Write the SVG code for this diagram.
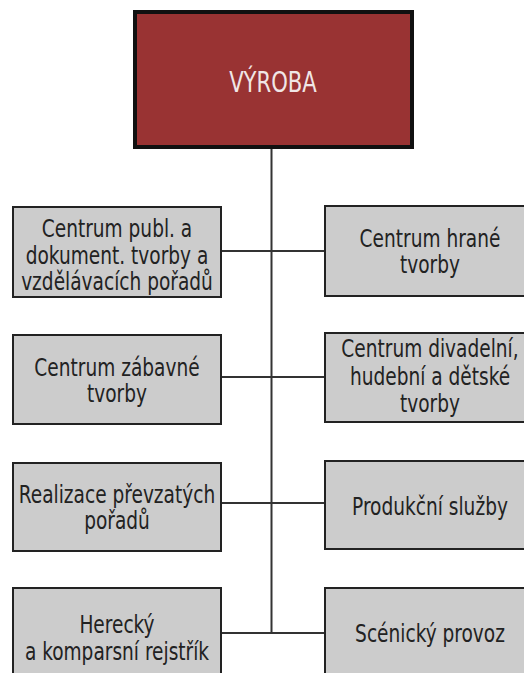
<svg xmlns="http://www.w3.org/2000/svg" width="524" height="673" viewBox="0 0 524 673">
<style>
.box{fill:#cccccc;stroke:#222;stroke-width:2}
.top{fill:#993333;stroke:#111;stroke-width:4}
.t{font-family:"DejaVu Sans Condensed","DejaVu Sans",sans-serif;font-stretch:condensed;font-size:24px;fill:#222;text-anchor:middle}
.tt{font-family:"DejaVu Sans Condensed","DejaVu Sans",sans-serif;font-stretch:condensed;font-size:28px;fill:#f0e6e6;text-anchor:middle}
.c{stroke:#333;stroke-width:2;fill:none}
</style>
<rect width="524" height="673" fill="#fff"/>
<g id="connectors">
<line class="c" x1="271.5" y1="148" x2="271.5" y2="633"/>
<line class="c" x1="221" y1="251" x2="325" y2="251"/>
<line class="c" x1="221" y1="377" x2="325" y2="377"/>
<line class="c" x1="221" y1="503" x2="325" y2="503"/>
<line class="c" x1="221" y1="633" x2="325" y2="633"/>
</g>
<g id="vyroba">
<rect class="top" x="135" y="12" width="277" height="135"/>
<text class="tt" transform="translate(273 92) scale(0.84 1)">VÝROBA</text>
</g>
<g id="n1">
<rect class="box" x="13" y="207" width="208" height="90"/>
<text class="t" transform="translate(117 237) scale(0.86 1)">Centrum publ. a</text>
<text class="t" transform="translate(117 264) scale(0.86 1)">dokument. tvorby a</text>
<text class="t" transform="translate(117 290) scale(0.86 1)">vzdělávacích pořadů</text>
</g>
<g id="n2">
<rect class="box" x="325" y="206" width="212" height="90"/>
<text class="t" transform="translate(430 247) scale(0.86 1)">Centrum hrané</text>
<text class="t" transform="translate(430 273) scale(0.86 1)">tvorby</text>
</g>
<g id="n3">
<rect class="box" x="13" y="335" width="208" height="89"/>
<text class="t" transform="translate(117 376) scale(0.86 1)">Centrum zábavné</text>
<text class="t" transform="translate(117 402) scale(0.86 1)">tvorby</text>
</g>
<g id="n4">
<rect class="box" x="325" y="333" width="212" height="89"/>
<text class="t" transform="translate(430 357) scale(0.86 1)">Centrum divadelní,</text>
<text class="t" transform="translate(430 385) scale(0.86 1)">hudební a dětské</text>
<text class="t" transform="translate(430 412) scale(0.86 1)">tvorby</text>
</g>
<g id="n5">
<rect class="box" x="13" y="463" width="208" height="88"/>
<text class="t" transform="translate(117 503) scale(0.86 1)">Realizace převzatých</text>
<text class="t" transform="translate(117 529) scale(0.86 1)">pořadů</text>
</g>
<g id="n6">
<rect class="box" x="325" y="461" width="212" height="88"/>
<text class="t" transform="translate(430 515) scale(0.86 1)">Produkční služby</text>
</g>
<g id="n7">
<rect class="box" x="13" y="588" width="208" height="95"/>
<text class="t" transform="translate(117 633) scale(0.86 1)">Herecký</text>
<text class="t" transform="translate(117 660) scale(0.86 1)">a komparsní rejstřík</text>
</g>
<g id="n8">
<rect class="box" x="325" y="588" width="212" height="95"/>
<text class="t" transform="translate(430 642) scale(0.86 1)">Scénický provoz</text>
</g>
</svg>
